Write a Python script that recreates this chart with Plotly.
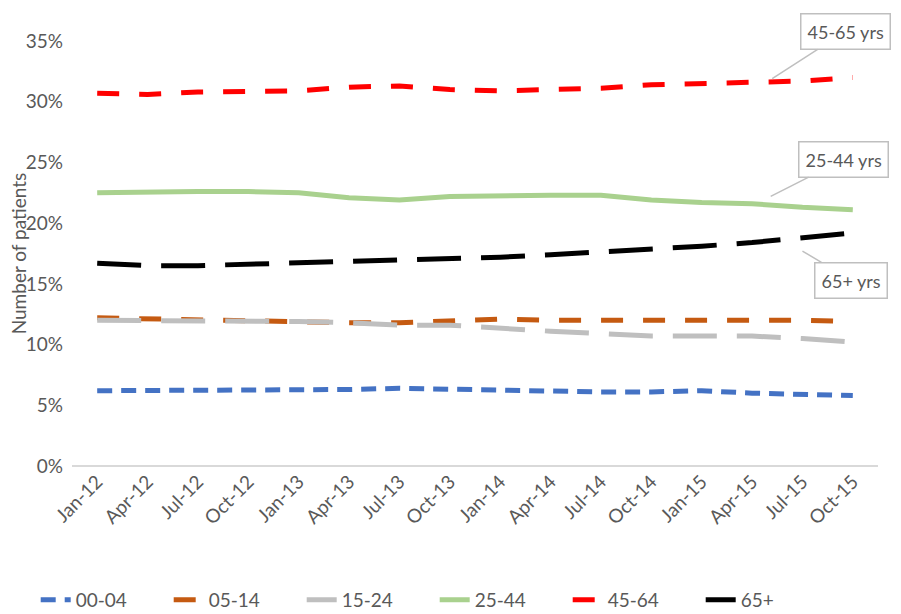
import plotly.graph_objects as go

# ── Datos ─────────────────────────────────────────────────────────────
quarters = ["Jan-12", "Apr-12", "Jul-12", "Oct-12", "Jan-13", "Apr-13", "Jul-13", "Oct-13",
            "Jan-14", "Apr-14", "Jul-14", "Oct-14", "Jan-15", "Apr-15", "Jul-15", "Oct-15"]

age_00_04 = [6.2, 6.2, 6.2, 6.3, 6.3, 6.3, 6.4, 6.3, 6.3, 6.2, 6.1, 6.1, 6.2, 6.0, 5.9, 5.8]
age_05_14 = [12.2, 12.1, 12.0, 11.9, 11.9, 11.8, 11.8, 12.0, 12.1, 12.0, 12.0, 12.1, 12.0, 12.0, 12.0, 11.9]
age_15_24 = [12.0, 12.0, 11.9, 11.9, 11.9, 11.8, 11.6, 11.6, 11.3, 11.1, 10.9, 10.7, 10.7, 10.7, 10.5, 10.2]
age_25_44 = [22.5, 22.6, 22.6, 22.6, 22.5, 22.1, 21.9, 22.2, 22.3, 22.3, 22.3, 21.9, 21.7, 21.6, 21.3, 21.1]
age_45_64 = [30.7, 30.6, 30.8, 30.9, 30.9, 31.2, 31.3, 31.0, 30.9, 31.0, 31.1, 31.4, 31.5, 31.6, 31.7, 32.0]
age_65 = [16.7, 16.5, 16.5, 16.6, 16.7, 16.9, 16.9, 17.0, 17.2, 17.4, 17.6, 17.9, 18.1, 18.4, 18.8, 19.2]

series = [
    ("00-04", age_00_04, "#4472C4", "15px,9px"),
    ("05-14", age_05_14, "#C55A11", "22px,20px"),
    ("15-24", age_15_24, "#BFBFBF", "44px,20px"),
    ("25-44", age_25_44, "#A9D18E", "solid"),
    ("45-64", age_45_64, "#FF0000", "22px,20px"),
    ("65+", age_65, "#000000", "44px,20px"),
]

FONT = "Lato, Open Sans, sans-serif"
GREY_TXT = "#595959"

fig = go.Figure()
for name, vals, color, dash in series:
    fig.add_trace(go.Scatter(
        x=list(range(len(quarters))), y=vals, name=name,
        mode="lines", line=dict(color=color, width=5, dash=dash),
    ))

# ── Etiquetas tipo callout ────────────────────────────────────────────
callouts = [
    ("45-65 yrs", 13.4, 31.9, 73, -47),
    ("25-44 yrs", 13.37, 22.2, 73, -37),
    ("65+ yrs", 14.0, 17.7, 49, 29),
]
for text, x, y, ax, ay in callouts:
    fig.add_annotation(
        x=x, y=y, xref="x", yref="y", text=text,
        showarrow=True, arrowhead=0, arrowwidth=1.5, arrowcolor="#BFBFBF",
        ax=ax, ay=ay, bordercolor="#BFBFBF", borderwidth=1.5, borderpad=6,
        bgcolor="white", font=dict(size=18, color=GREY_TXT, family=FONT),
    )

# título del eje Y como anotación (margen fijo)
fig.add_annotation(
    text="Number of patients", xref="paper", yref="paper",
    x=-0.066, y=0.5, xanchor="center", yanchor="middle", textangle=-90,
    showarrow=False, font=dict(size=19, color=GREY_TXT, family=FONT),
)

# la página añade 8px de margen al body: figura algo más pequeña
fig.update_layout(
    width=893, height=606,
    margin=dict(l=64, r=23, t=33, b=148, autoexpand=False),
    plot_bgcolor="white", paper_bgcolor="white",
    font=dict(family=FONT, color=GREY_TXT, size=18),
    showlegend=True,
    legend=dict(orientation="h", x=0.45, xanchor="center", y=-0.315, yanchor="middle",
                font=dict(size=19, color=GREY_TXT), entrywidth=88, entrywidthmode="pixels"),
    xaxis=dict(
        tickmode="array", tickvals=list(range(len(quarters))), ticktext=quarters,
        range=[-0.5, 15.5], tickangle=-45, showgrid=False, zeroline=False,
        showline=False, tickfont=dict(size=19, color=GREY_TXT), automargin=False,
    ),
    yaxis=dict(
        range=[0, 35], tickvals=[0, 5, 10, 15, 20, 25, 30, 35],
        ticktext=["0%", "5%", "10%", "15%", "20%", "25%", "30%", "35%"],
        showgrid=False, zeroline=True, zerolinecolor="#D9D9D9", zerolinewidth=1.5,
        tickfont=dict(size=19, color=GREY_TXT), ticks="", ticklabelstandoff=8,
        automargin=False,
    ),
)

fig.write_html("out.html")
